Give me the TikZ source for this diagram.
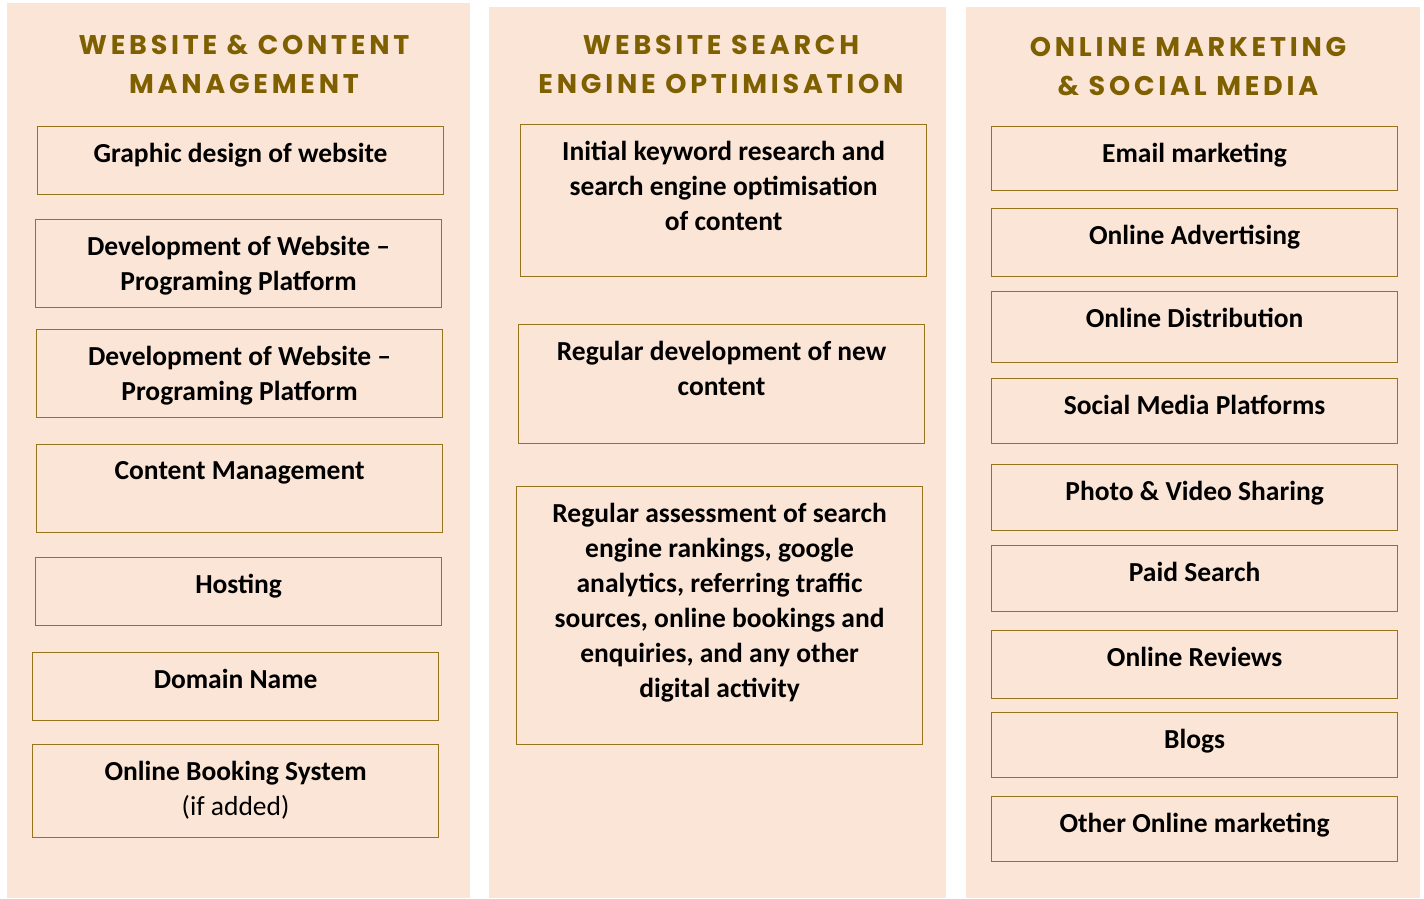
\documentclass[tikz,border=0pt]{standalone}
\usepackage{fontspec}
\setmainfont{Carlito}
\newfontfamily\headfont[LetterSpace=14]{Poppins}
\usetikzlibrary{positioning}
\definecolor{PanelPeach}{RGB}{251,229,214}
\definecolor{HeadGold}{RGB}{127,96,0}
\definecolor{BoxGold}{RGB}{150,116,30}
\tikzset{
  panel/.style={fill=PanelPeach, draw=none},
  head/.style={font=\headfont\bfseries\fontsize{27}{39}\selectfont, text=HeadGold, align=center, inner sep=0pt},
  itembox/.style={draw=BoxGold, line width=1.2pt, anchor=north west, minimum width=406pt, minimum height=#1, inner sep=0pt},
  itemtxt/.style={font=\bfseries\fontsize{27.5}{35}\selectfont, align=center, inner sep=0pt},
}
\begin{document}
\begin{tikzpicture}[x=1pt, y=-1pt]
  \useasboundingbox (0,0) rectangle (1424,899);
  % column panels
  \fill[panel] (7,3) rectangle (470,898);
  \fill[panel] (489,7) rectangle (946,898);
  \fill[panel] (966,7) rectangle (1420,898);

  % headings
  \node[head] (webhead) at (244,64.5) {WEBSITE \& CONTENT\\MANAGEMENT};
  \node[head] (seohead) at (721,64) {WEBSITE SEARCH\\ENGINE OPTIMISATION};
  \node[head] (mkthead) at (1188,66.5) {ONLINE MARKETING\\\& SOCIAL MEDIA};

  % website & content management
  \node[itembox=68pt] (web1) at (37,126) {};
  \node[itemtxt, below=17pt of web1.north] (web1t) {Graphic design of website};
  \node[itembox=88pt] (web2) at (35,219) {};
  \node[itemtxt, below=17pt of web2.north] (web2t) {Development of Website --\\Programing Platform};
  \node[itembox=88pt] (web3) at (36,329) {};
  \node[itemtxt, below=17pt of web3.north] (web3t) {Development of Website --\\Programing Platform};
  \node[itembox=88pt] (web4) at (36,444) {};
  \node[itemtxt, below=17pt of web4.north] (web4t) {Content Management};
  \node[itembox=68pt] (web5) at (35,557) {};
  \node[itemtxt, below=17pt of web5.north] (web5t) {Hosting};
  \node[itembox=68pt] (web6) at (32,652) {};
  \node[itemtxt, below=17pt of web6.north] (web6t) {Domain Name};
  \node[itembox=93pt] (web7) at (32,744) {};
  \node[itemtxt, below=17pt of web7.north] (web7t) {Online Booking System\\\mdseries(if added)};

  % search engine optimisation
  \node[itembox=152pt] (seo1) at (520,124) {};
  \node[itemtxt, below=17pt of seo1.north] (seo1t) {Initial keyword research and\\search engine optimisation\\of content};
  \node[itembox=119pt] (seo2) at (518,324) {};
  \node[itemtxt, below=17pt of seo2.north] (seo2t) {Regular development of new\\content};
  \node[itembox=258pt] (seo3) at (516,486) {};
  \node[itemtxt, below=17pt of seo3.north] (seo3t) {Regular assessment of search\\engine rankings, google\\analytics, referring traffic\\sources, online bookings and\\enquiries, and any other\\digital activity};

  % online marketing & social media
  \node[itembox=64pt] (mkt1) at (991,126) {};
  \node[itemtxt, below=17pt of mkt1.north] (mkt1t) {Email marketing};
  \node[itembox=68pt] (mkt2) at (991,208) {};
  \node[itemtxt, below=17pt of mkt2.north] (mkt2t) {Online Advertising};
  \node[itembox=71pt] (mkt3) at (991,291) {};
  \node[itemtxt, below=17pt of mkt3.north] (mkt3t) {Online Distribution};
  \node[itembox=65pt] (mkt4) at (991,378) {};
  \node[itemtxt, below=17pt of mkt4.north] (mkt4t) {Social Media Platforms};
  \node[itembox=66pt] (mkt5) at (991,464) {};
  \node[itemtxt, below=17pt of mkt5.north] (mkt5t) {Photo \& Video Sharing};
  \node[itembox=66pt] (mkt6) at (991,545) {};
  \node[itemtxt, below=17pt of mkt6.north] (mkt6t) {Paid Search};
  \node[itembox=68pt] (mkt7) at (991,630) {};
  \node[itemtxt, below=17pt of mkt7.north] (mkt7t) {Online Reviews};
  \node[itembox=65pt] (mkt8) at (991,712) {};
  \node[itemtxt, below=17pt of mkt8.north] (mkt8t) {Blogs};
  \node[itembox=65pt] (mkt9) at (991,796) {};
  \node[itemtxt, below=17pt of mkt9.north] (mkt9t) {Other Online marketing};
\end{tikzpicture}
\end{document}
